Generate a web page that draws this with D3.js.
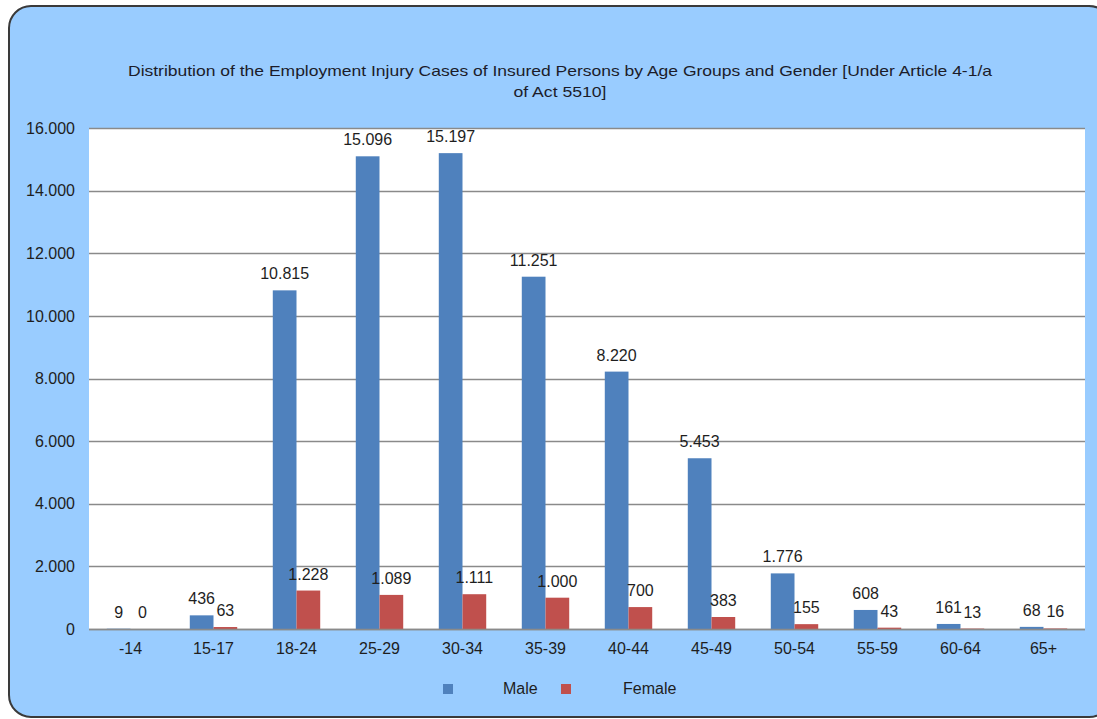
<!DOCTYPE html>
<html>
<head>
<meta charset="utf-8">
<script src="https://cdn.jsdelivr.net/npm/d3@7"></script>
<style>
  html, body { margin: 0; padding: 0; background: #ffffff; }
  svg { display: block; font-family: "Liberation Sans", Arial, sans-serif; }
</style>
</head>
<body>
<svg id="chart" width="1097" height="719"></svg>
<script>
// ---- data ----
const categories = ["-14", "15-17", "18-24", "25-29", "30-34", "35-39", "40-44", "45-49", "50-54", "55-59", "60-64", "65+"];
const seriesNames = ["Male", "Female"];
const maleValues = [9, 436, 10815, 15096, 15197, 11251, 8220, 5453, 1776, 608, 161, 68];
const femaleValues = [0, 63, 1228, 1089, 1111, 1000, 700, 383, 155, 43, 13, 16];
const yTicks = [0, 2000, 4000, 6000, 8000, 10000, 12000, 14000, 16000];
const titleLines = ["Distribution of the Employment Injury Cases of Insured  Persons by Age Groups and Gender [Under Article 4-1/a", "of Act 5510]"];

const colors = { Male: "#4F81BD", Female: "#C0504D" };
const valuesBySeries = { Male: maleValues, Female: femaleValues };

const locale = d3.formatLocale({ decimal: ",", thousands: ".", grouping: [3], currency: ["", ""] });
const fmt = locale.format(",d");

const svg = d3.select("#chart");

// outer panel
svg.append("rect")
  .attr("x", 9).attr("y", 6)
  .attr("width", 1102).attr("height", 711)
  .attr("rx", 22).attr("ry", 22)
  .attr("fill", "#99CCFF")
  .attr("stroke", "#3a3a3a")
  .attr("stroke-width", 2);

const plot = { left: 89, right: 1085, top: 128, bottom: 629 };

// plot area background
svg.append("rect")
  .attr("x", plot.left).attr("y", plot.top)
  .attr("width", plot.right - plot.left).attr("height", plot.bottom - plot.top)
  .attr("fill", "#ffffff");

const x = d3.scaleBand().domain(categories).range([plot.left, plot.right]).paddingInner(0).paddingOuter(0);
const y = d3.scaleLinear().domain([0, 16000]).range([plot.bottom, plot.top]);

const barW = x.bandwidth() / 3.5;
const xs = d3.scaleBand().domain(seriesNames)
  .range([(x.bandwidth() - 2 * barW) / 2, (x.bandwidth() + 2 * barW) / 2]);

// gridlines
svg.append("g")
  .selectAll("line")
  .data(yTicks)
  .join("line")
  .attr("x1", plot.left).attr("x2", plot.right)
  .attr("y1", d => Math.round(y(d)) + 0.5).attr("y2", d => Math.round(y(d)) + 0.5)
  .attr("stroke", "#8a8a8a")
  .attr("stroke-width", 1.6);

// y axis labels
const yAxis = d3.axisLeft(y).tickValues(yTicks).tickFormat(fmt).tickSize(0).tickPadding(0);
const yg = svg.append("g").attr("transform", `translate(${plot.left - 14},0)`).call(yAxis);
yg.select(".domain").remove();
yg.selectAll("text").attr("font-size", 16).attr("fill", "#1e1e1e").attr("font-family", "Liberation Sans, Arial, sans-serif");

// x axis labels
const xAxis = d3.axisBottom(x).tickSize(0).tickPadding(0);
const xg = svg.append("g").attr("transform", `translate(0,${plot.bottom + 14})`).call(xAxis);
xg.select(".domain").remove();
xg.selectAll("text").attr("font-size", 16).attr("fill", "#1e1e1e").attr("font-family", "Liberation Sans, Arial, sans-serif");

// bars
const rows = categories.map((c, i) => ({ cat: c, vals: seriesNames.map(s => ({ s, v: valuesBySeries[s][i] })) }));
const groups = svg.append("g").selectAll("g")
  .data(rows)
  .join("g")
  .attr("transform", d => `translate(${x(d.cat)},0)`);

groups.selectAll("rect")
  .data(d => d.vals)
  .join("rect")
  .attr("x", d => xs(d.s))
  .attr("width", xs.bandwidth())
  .attr("y", d => y(d.v) - (d.v > 0 ? 0 : 0))
  .attr("height", d => Math.max(plot.bottom - y(d.v), 0))
  .attr("fill", d => colors[d.s]);

// zero axis line on top
svg.append("line")
  .attr("x1", plot.left).attr("x2", plot.right)
  .attr("y1", Math.round(y(0)) + 0.5).attr("y2", Math.round(y(0)) + 0.5)
  .attr("stroke", "#8a8a8a").attr("stroke-width", 1.6);

// data labels
groups.selectAll("text.lbl")
  .data(d => d.vals)
  .join("text")
  .attr("class", "lbl")
  .attr("x", d => xs(d.s) + xs.bandwidth() / 2)
  .attr("y", d => y(d.v) - 11)
  .attr("text-anchor", "middle")
  .attr("font-size", 16)
  .attr("fill", "#1e1e1e")
  .text(d => fmt(d.v));

// title
svg.append("g").selectAll("text")
  .data(titleLines)
  .join("text")
  .attr("x", 560)
  .attr("y", (d, i) => 76 + i * 21)
  .attr("text-anchor", "middle")
  .attr("font-size", 15)
  .attr("fill", "#1c1c2a")
  .attr("textLength", (d, i) => i === 0 ? 864 : 93)
  .attr("lengthAdjust", "spacingAndGlyphs")
  .text(d => d);

// legend
const legendItems = [
  { s: "Male", sx: 443, tx: 503 },
  { s: "Female", sx: 561, tx: 623 }
];
const lg = svg.append("g");
lg.selectAll("rect")
  .data(legendItems)
  .join("rect")
  .attr("x", d => d.sx).attr("y", 684)
  .attr("width", 10).attr("height", 10)
  .attr("fill", d => colors[d.s]);
lg.selectAll("text")
  .data(legendItems)
  .join("text")
  .attr("x", d => d.tx).attr("y", 694)
  .attr("font-size", 16)
  .attr("fill", "#1e1e1e")
  .text(d => d.s);
</script>
</body>
</html>
